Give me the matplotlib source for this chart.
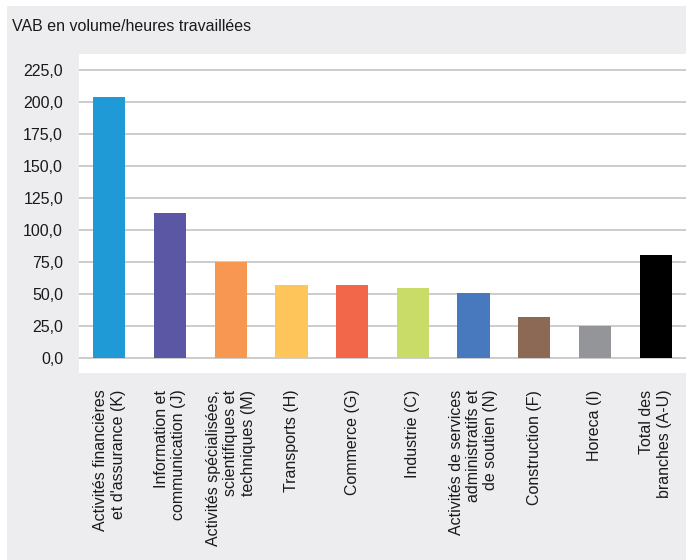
import numpy as np
import matplotlib.pyplot as plt
from matplotlib.patches import Rectangle

# Valeur ajoutée brute en volume par heure travaillée, par branche
branches = [
    "Activités financières\net d'assurance (K)",
    "Information et\ncommunication (J)",
    "Activités spécialisées,\nscientifiques et\ntechniques (M)",
    "Transports (H)",
    "Commerce (G)",
    "Industrie (C)",
    "Activités de services\nadministratifs et\nde soutien (N)",
    "Construction (F)",
    "Horeca (I)",
    "Total des\nbranches (A-U)",
]
valeurs = [204.0, 113.2, 74.8, 56.8, 56.6, 54.5, 50.8, 31.8, 25.0, 80.5]
couleurs = ['#1f9ad6', '#5b57a5', '#f79752', '#fdc55a', '#f2674a',
            '#c9dc68', '#4878bd', '#8c6954', '#949598', '#000000']
graduations = [0, 25, 50, 75, 100, 125, 150, 175, 200, 225]

plt.rcParams['font.family'] = ['Liberation Sans', 'DejaVu Sans']

fig = plt.figure(figsize=(6.86, 5.6), dpi=100, facecolor='white')

# fond gris du cadre, sous les axes
fond = Rectangle((7 / 686, 0), 679 / 686, 1 - 6 / 560,
                 transform=fig.transFigure, facecolor='#ededef',
                 edgecolor='none', zorder=-1)
fig.add_artist(fond)

ax = fig.add_axes([79 / 686, 1 - 373 / 560, 1 - 79 / 686, 319 / 560])
ax.set_zorder(1)
ax.set_facecolor('white')

x = np.arange(len(valeurs))
ax.bar(x, valeurs, width=0.53, color=couleurs, zorder=3)

ax.set_xlim(-0.5, len(valeurs) - 0.5)
ax.set_ylim(-12, 237.5)
ax.set_yticks(graduations)
ax.set_yticklabels([f"{v:.1f}".replace('.', ',') for v in graduations])
ax.set_xticks(x)
ax.set_xticklabels(branches, rotation=90, ha='center', va='top',
                   multialignment='right')

ax.yaxis.grid(True, color='#c8c8c8', linewidth=1.3, zorder=1)
for s in ax.spines.values():
    s.set_visible(False)
ax.tick_params(axis='y', length=0, pad=11.5, labelsize=11.5, labelcolor='#1a1a1a')
ax.tick_params(axis='x', length=0, pad=12, labelsize=11.5, labelcolor='#1a1a1a')

fig.text(12 / 686, 1 - 31 / 560, "VAB en volume/heures travaillées",
         fontsize=11.5, color='#1a1a1a', va='baseline', ha='left')

plt.savefig("out.png", dpi=100)
